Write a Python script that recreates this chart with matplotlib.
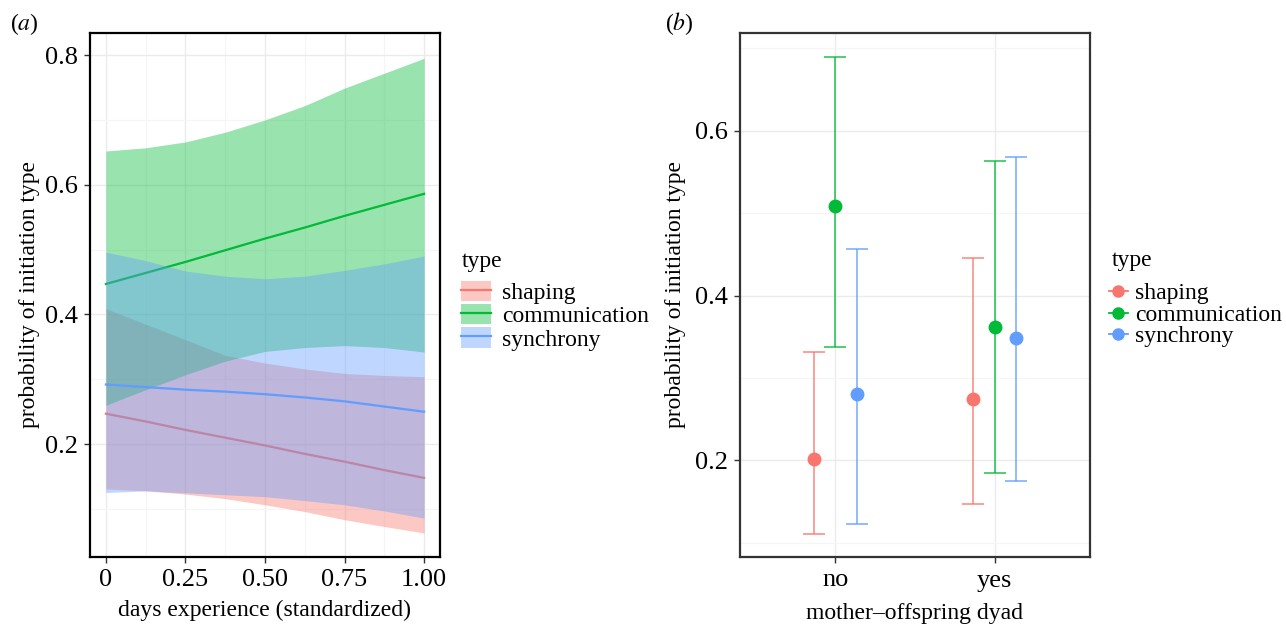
import matplotlib
matplotlib.use("Agg")
import matplotlib.pyplot as plt
from matplotlib.lines import Line2D
from matplotlib.patches import Patch
from matplotlib.ticker import MultipleLocator

plt.rcParams['font.family'] = ['Liberation Serif', 'DejaVu Serif']

# ---------------- data ----------------
types = ["shaping", "communication", "synchrony"]
colors = ["#F8766D", "#00BA38", "#619CFF"]

# panel (a): days experience (standardized)
days_x = [0, 0.125, 0.25, 0.375, 0.5, 0.625, 0.75, 0.875, 1.0]

shaping_fit = [0.247, 0.235, 0.222, 0.210, 0.198, 0.185, 0.173, 0.160, 0.148]
shaping_lo = [0.131, 0.128, 0.123, 0.116, 0.1065, 0.096, 0.0835, 0.073, 0.063]
shaping_hi = [0.409, 0.385, 0.361, 0.337, 0.325, 0.316, 0.309, 0.306, 0.304]

comm_fit = [0.447, 0.464, 0.481, 0.499, 0.517, 0.534, 0.552, 0.569, 0.586]
comm_lo = [0.260, 0.284, 0.307, 0.328, 0.343, 0.349, 0.352, 0.349, 0.342]
comm_hi = [0.652, 0.657, 0.666, 0.681, 0.700, 0.722, 0.749, 0.772, 0.795]

sync_fit = [0.292, 0.288, 0.284, 0.281, 0.277, 0.272, 0.266, 0.258, 0.250]
sync_lo = [0.1255, 0.128, 0.125, 0.122, 0.119, 0.113, 0.1065, 0.097, 0.086]
sync_hi = [0.496, 0.483, 0.467, 0.459, 0.455, 0.459, 0.468, 0.478, 0.490]

# panel (b): mother-offspring dyad
dyad = ["no", "yes"]
b_fit = {"shaping": [0.202, 0.2745],
         "communication": [0.509, 0.362],
         "synchrony": [0.280, 0.348]}
b_lo = {"shaping": [0.111, 0.147],
        "communication": [0.337, 0.185],
        "synchrony": [0.123, 0.1745]}
b_hi = {"shaping": [0.332, 0.4455],
        "communication": [0.689, 0.563],
        "synchrony": [0.456, 0.568]}

# ---------------- figure ----------------
W, H = 1286, 624
fig = plt.figure(figsize=(W / 100, H / 100), dpi=100)

FS = 17
TFS = 19
grid_major = "#EBEBEB"
grid_minor = "#F5F5F5"


def style_axes(ax, spine_color):
    for s in ax.spines.values():
        s.set_color(spine_color)
        s.set_linewidth(1.6)
    ax.tick_params(axis='both', which='major', labelsize=TFS, length=4,
                   width=1.0, color="#333333", pad=5, labelcolor="black")
    ax.tick_params(axis='both', which='minor', length=0)
    ax.set_axisbelow(True)


# ----- panel a -----
axa = fig.add_axes([90 / W, (H - 557) / H, 350 / W, 524 / H])
axa.set_xlim(-0.05, 1.05)
axa.set_ylim(0.026, 0.834)
axa.xaxis.set_major_locator(MultipleLocator(0.25))
axa.xaxis.set_minor_locator(MultipleLocator(0.125))
axa.yaxis.set_major_locator(MultipleLocator(0.2))
axa.yaxis.set_minor_locator(MultipleLocator(0.1))
axa.grid(which='major', color=grid_major, linewidth=1.0)
axa.grid(which='minor', color=grid_minor, linewidth=0.8)
style_axes(axa, "black")
axa.set_xticks([0, 0.25, 0.5, 0.75, 1.0])
axa.set_xticklabels(["0", "0.25", "0.50", "0.75", "1.00"])
axa.set_yticks([0.2, 0.4, 0.6, 0.8])
axa.set_yticklabels(["0.2", "0.4", "0.6", "0.8"])

series_a = [(shaping_fit, shaping_lo, shaping_hi),
            (comm_fit, comm_lo, comm_hi),
            (sync_fit, sync_lo, sync_hi)]
for i, ((fit, lo, hi), c) in enumerate(zip(series_a, colors)):
    axa.fill_between(days_x, lo, hi, color=c, alpha=0.4, linewidth=0,
                     zorder=2 + 2 * i)
    axa.plot(days_x, fit, color=c, linewidth=1.6, zorder=3 + 2 * i)

axa.set_xlabel("days experience (standardized)", fontsize=FS, labelpad=6)
axa.set_ylabel("probability of initiation type", fontsize=FS, labelpad=3)

fig.text(462 / W, 1 - 261 / H, "type", fontsize=FS, va='center', ha='left')
handles_a = [(Patch(facecolor=c, alpha=0.4, edgecolor='none'),
              Line2D([], [], color=c, linewidth=1.6)) for c in colors]
leg_a = fig.legend(handles_a, types, loc="upper left",
                   bbox_to_anchor=(456 / W, 1 - 276 / H), frameon=False,
                   fontsize=FS, handlelength=1.3,
                   handleheight=0.95, handletextpad=0.45, labelspacing=0.0,
                   borderaxespad=0, borderpad=0.2)

# ----- panel b -----
axb = fig.add_axes([740 / W, (H - 557) / H, 350 / W, 524 / H])
axb.set_xlim(0.4, 2.6)
axb.set_ylim(0.0828, 0.7186)
axb.yaxis.set_major_locator(MultipleLocator(0.2))
axb.yaxis.set_minor_locator(MultipleLocator(0.1))
axb.grid(which='major', color=grid_major, linewidth=1.0)
axb.grid(which='minor', axis='y', color=grid_minor, linewidth=0.8)
style_axes(axb, "#333333")
axb.set_xticks([1, 2])
axb.set_xticklabels(dyad)
axb.set_yticks([0.2, 0.4, 0.6])
axb.set_yticklabels(["0.2", "0.4", "0.6"])

offsets = [-0.133, 0.0, 0.133]
for t, c, off in zip(types, colors, offsets):
    xs = [1 + off, 2 + off]
    fit = b_fit[t]
    lo = b_lo[t]
    hi = b_hi[t]
    yerr = [[f - l for f, l in zip(fit, lo)], [h - f for f, h in zip(fit, hi)]]
    axb.errorbar(xs, fit, yerr=yerr, fmt='none', ecolor=c, alpha=0.75,
                 elinewidth=1.3, capsize=8, capthick=1.3, zorder=3)
    axb.plot(xs, fit, 'o', color=c, markersize=9, linestyle='none', zorder=4)

axb.set_xlabel("mother\u2013offspring dyad", fontsize=FS, labelpad=8)
axb.set_ylabel("probability of initiation type", fontsize=FS, labelpad=6)

fig.text(1112 / W, 1 - 260 / H, "type", fontsize=FS, va='center', ha='left')
handles_b = [Line2D([], [], color=c, marker='o', markersize=8, linewidth=1.3)
             for c in colors]
leg_b = fig.legend(handles_b, types, loc="upper left",
                   bbox_to_anchor=(1104 / W, 1 - 278 / H), frameon=False,
                   fontsize=FS, handlelength=0.8,
                   handletextpad=0.3, labelspacing=0.0, borderaxespad=0,
                   borderpad=0.2)

# panel labels
fig.text(10 / W, 1 - 30 / H, "($a$)", fontsize=17, va='baseline',
         math_fontfamily='stix')
fig.text(665 / W, 1 - 30 / H, "($b$)", fontsize=17, va='baseline',
         math_fontfamily='stix')

fig.savefig("out.png", dpi=100)
